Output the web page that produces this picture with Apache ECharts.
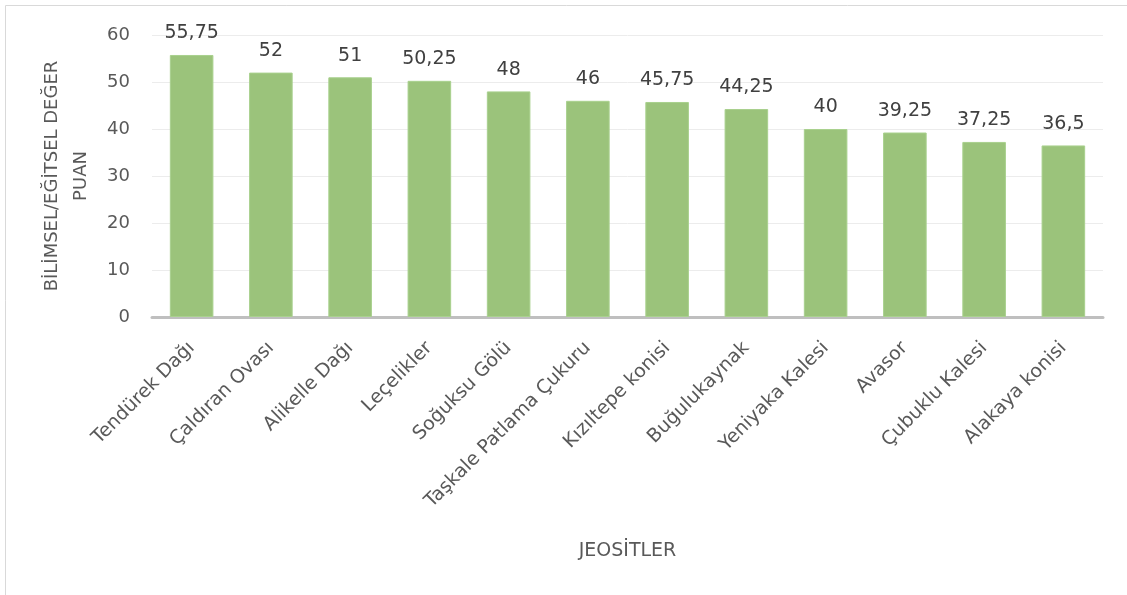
<!DOCTYPE html>
<html><head><meta charset="utf-8">
<script src="https://cdn.jsdelivr.net/npm/echarts@6/dist/echarts.min.js"></script>
<style>html,body{margin:0;padding:0;background:#fff}#c{width:1127px;height:595px}</style>
</head><body><div id="c"></div>
<script>
const categories = ["Tendürek Dağı","Çaldıran Ovası","Alikelle Dağı","Leçelikler","Soğuksu Gölü","Taşkale Patlama Çukuru","Kızıltepe konisi","Buğulukaynak","Yeniyaka Kalesi","Avasor","Çubuklu Kalesi","Alakaya konisi"];
const values = [55.75,52,51,50.25,48,46,45.75,44.25,40,39.25,37.25,36.5];
const yName = "BİLİMSEL/EĞİTSEL DEĞER\nPUAN";
const xName = "JEOSİTLER";
const font = "'DejaVu Sans', sans-serif";
const chart = echarts.init(document.getElementById('c'));
chart.setOption({
  animation:false,
  graphic:[{type:'rect',shape:{x:5.5,y:5.5,width:1140,height:600},style:{fill:'none',stroke:'#d9d9d9',lineWidth:1}}],
  grid:{left:152,right:24,top:35,bottom:278},
  xAxis:{type:'category',data:categories,
    name:xName,nameLocation:'middle',nameGap:225,
    nameTextStyle:{fontFamily:font,fontSize:19,color:'#595959'},
    axisLine:{lineStyle:{color:'#bfbfbf',width:3}},
    axisTick:{show:false},
    axisLabel:{rotate:45,interval:0,fontFamily:font,fontSize:19,color:'#595959',margin:28},
  },
  yAxis:{type:'value',min:0,max:60,interval:10,
    name:yName,nameLocation:'middle',nameGap:52,
    nameTextStyle:{fontFamily:font,fontSize:18,color:'#595959',lineHeight:29},
    axisLine:{show:false},axisTick:{show:false},
    axisLabel:{fontFamily:font,fontSize:18,color:'#595959',margin:22},
    splitLine:{lineStyle:{color:'#ececec',width:1}}},
  series:[{type:'bar',data:values,barWidth:'55%',
    itemStyle:{color:'#9bc37b',borderColor:'#a9d18e',borderWidth:1},
    label:{show:true,position:'top',distance:12,fontFamily:font,fontSize:19,color:'#404040',
      formatter:p=>String(p.value).replace('.',',')}}]
});
</script></body></html>
